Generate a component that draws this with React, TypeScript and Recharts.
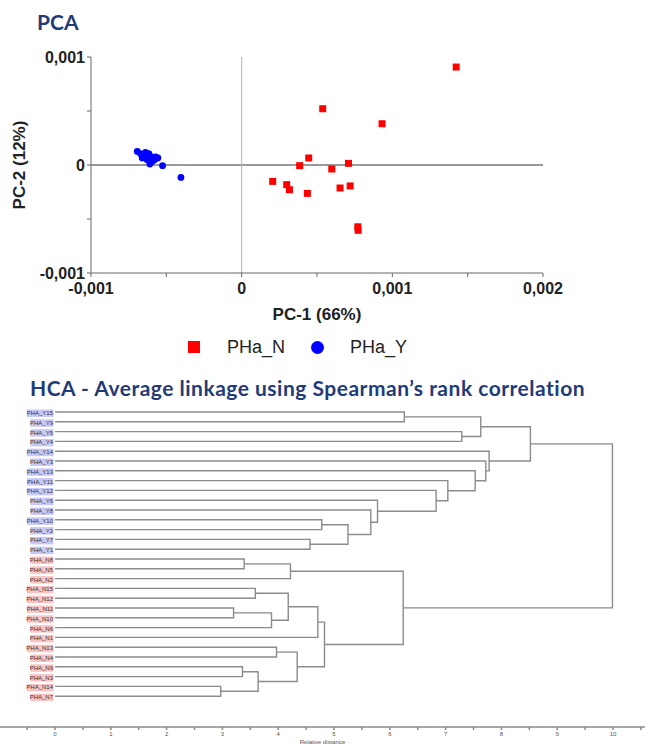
import React from "react";
import { ScatterChart, Scatter, XAxis, YAxis, ReferenceLine } from "recharts";

// PCA scores
const phaN = [
  { x: 0.001424, y: 0.000907 },
  { x: 0.000538, y: 0.000521 },
  { x: 0.000932, y: 0.000382 },
  { x: 0.000445, y: 0.000065 },
  { x: 0.000385, y: -0.000006 },
  { x: 0.000598, y: -0.000037 },
  { x: 0.000709, y: 0.000015 },
  { x: 0.000206, y: -0.000152 },
  { x: 0.000299, y: -0.000182 },
  { x: 0.000317, y: -0.000229 },
  { x: 0.000436, y: -0.000263 },
  { x: 0.000653, y: -0.000213 },
  { x: 0.00072, y: -0.000194 },
  { x: 0.000771, y: -0.000572 },
  { x: 0.000773, y: -0.000605 },
];

const phaY = [
  { x: -0.000693, y: 0.000126 },
  { x: -0.000638, y: 0.000117 },
  { x: -0.000605, y: 0.00008 },
  { x: -0.00066, y: 0.000065 },
  { x: -0.000627, y: 0.000049 },
  { x: -0.000594, y: 0.000033 },
  { x: -0.000556, y: 0.000065 },
  { x: -0.000649, y: 0.000086 },
  { x: -0.000609, y: 0.000009 },
  { x: -0.000578, y: 0.000049 },
  { x: -0.000525, y: -0.000006 },
  { x: -0.000403, y: -0.000115 },
  { x: -0.000616, y: 0.000105 },
  { x: -0.000671, y: 0.000105 },
  { x: -0.000571, y: 0.000074 },
];

const pcaTicksX = [-0.001, -0.0005, 0, 0.0005, 0.001, 0.0015, 0.002];
const pcaTicksY = [-0.001, -0.0005, 0, 0.0005, 0.001];

// HCA leaves, top to bottom
const leafNames = [
  "PHA_Y15", "PHA_Y9", "PHA_Y5", "PHA_Y4", "PHA_Y14", "PHA_Y3", "PHA_Y13", "PHA_Y11",
  "PHA_Y12", "PHA_Y6", "PHA_Y8", "PHA_Y10", "PHA_Y2", "PHA_Y7", "PHA_Y1",
  "PHA_N8", "PHA_N5", "PHA_N2", "PHA_N15", "PHA_N12", "PHA_N11", "PHA_N10", "PHA_N6",
  "PHA_N1", "PHA_N13", "PHA_N4", "PHA_N9", "PHA_N3", "PHA_N14", "PHA_N7",
];

// [child a, child b, distance]; nodes 30+ are the merges in this order
const linkage: [number, number, number][] = [
  [0, 1, 6.26],
  [2, 3, 7.29],
  [30, 31, 7.63],
  [11, 12, 4.78],
  [13, 14, 4.57],
  [33, 34, 5.25],
  [10, 35, 5.66],
  [9, 36, 5.78],
  [8, 37, 6.83],
  [7, 38, 7.04],
  [6, 39, 7.53],
  [5, 40, 7.72],
  [4, 41, 7.78],
  [32, 42, 8.52],
  [15, 16, 3.39],
  [44, 17, 4.22],
  [18, 19, 3.59],
  [20, 21, 3.2],
  [47, 22, 3.88],
  [46, 48, 4.18],
  [49, 23, 4.71],
  [24, 25, 3.97],
  [26, 27, 3.36],
  [28, 29, 2.97],
  [52, 53, 3.64],
  [51, 54, 4.34],
  [50, 55, 4.83],
  [45, 56, 6.24],
  [43, 57, 9.99],
];

const distanceTicks = [
  -0.5, 0, 0.5, 1, 1.5, 2, 2.5, 3, 3.5, 4, 4.5, 5, 5.5, 6, 6.5, 7, 7.5, 8, 8.5, 9, 9.5, 10, 10.5,
];

const TITLE_COLOR = "#1F3C78";

const fmtPca = (v: number) => {
  if (Math.abs(v) < 1e-12) return "0";
  const k = Math.round(v * 2000);
  if (k % 2 !== 0) return "";
  return v.toFixed(3).replace(".", ",");
};

const RedSquare = (props: any) => {
  const { cx, cy } = props;
  return <rect x={cx - 3.5} y={cy - 3.5} width={7} height={7} fill="#ff0000" />;
};

const BlueDot = (props: any) => {
  const { cx, cy } = props;
  return <circle cx={cx} cy={cy} r={3.4} fill="#0000ff" />;
};

const LeafLabel = (props: any) => {
  const { cx, cy } = props;
  const name: string = props.payload?.name ?? props.name;
  const isY = name.indexOf("_Y") >= 0;
  const w = name.length * 3.6 + 1.5;
  return (
    <g>
      <rect
        x={cx - 1.5 - w}
        y={cy - 2.5}
        width={w}
        height={7.5}
        fill={isY ? "#c8c8f5" : "#f8c4c4"}
      />
      <text
        x={cx - 2}
        y={cy + 1.5}
        textAnchor="end"
        dominantBaseline="middle"
        fontSize={6}
        fontFamily="Liberation Sans"
        fill="#333"
      >
        {name}
      </text>
    </g>
  );
};

const Hidden = () => <g />;

export default function App() {
  // node positions: leaves at their row, merges halfway between children
  const nodeY: number[] = leafNames.map((_, i) => i);
  const nodeH: number[] = leafNames.map(() => 0);
  linkage.forEach(([a, b, h]) => {
    nodeY.push((nodeY[a] + nodeY[b]) / 2);
    nodeH.push(h);
  });
  const branches = linkage.map(([a, b, h]) => [
    { x: nodeH[a], y: nodeY[a] },
    { x: h, y: nodeY[a] },
    { x: h, y: nodeY[b] },
    { x: nodeH[b], y: nodeY[b] },
  ]);
  const leaves = leafNames.map((name, i) => ({ x: 0, y: i, name }));

  const tickStyle = {
    fill: "#222",
    fontSize: 16,
    fontWeight: "bold",
    fontFamily: "Liberation Sans",
  };

  return (
    <div
      style={{
        position: "absolute",
        left: 0,
        top: 0,
        width: 645,
        height: 744,
        background: "#fff",
        overflow: "hidden",
      }}
    >
      <div
        style={{
          position: "absolute",
          left: 37,
          top: 10,
          fontFamily: "Lato",
          fontWeight: "bold",
          fontSize: 21,
          lineHeight: "24px",
          color: TITLE_COLOR,
        }}
      >
        PCA
      </div>

      <div style={{ position: "absolute", left: 0, top: 0 }}>
        <ScatterChart
          width={645}
          height={330}
          margin={{ top: 57, right: 102, left: 19, bottom: 0 }}
        >
          <XAxis
            type="number"
            dataKey="x"
            domain={[-0.001, 0.002]}
            ticks={pcaTicksX}
            tickFormatter={fmtPca}
            interval={0}
            height={57}
            tickSize={4}
            tickMargin={6}
            stroke="#666"
            tick={tickStyle}
            label={{
              value: "PC-1 (66%)",
              position: "insideBottom",
              offset: 10,
              style: { ...tickStyle, fontSize: 17 },
            }}
          />
          <YAxis
            type="number"
            dataKey="y"
            domain={[-0.001, 0.001]}
            ticks={pcaTicksY}
            tickFormatter={fmtPca}
            interval={0}
            width={72}
            tickSize={4}
            stroke="#666"
            tick={tickStyle}
            label={{
              value: "PC-2 (12%)",
              angle: -90,
              position: "insideLeft",
              offset: 0,
              style: { ...tickStyle, fontSize: 17, textAnchor: "middle" },
            }}
          />
          <ReferenceLine y={0} stroke="#777" strokeWidth={1.3} />
          <ReferenceLine x={0} stroke="#b5b5b5" />
          <Scatter data={phaN} shape={RedSquare} isAnimationActive={false} />
          <Scatter data={phaY} shape={BlueDot} isAnimationActive={false} />
        </ScatterChart>
      </div>

      {/* legend */}
      <div
        style={{
          position: "absolute",
          left: 188,
          top: 341,
          width: 12,
          height: 12,
          background: "#ff0000",
        }}
      />
      <div
        style={{
          position: "absolute",
          left: 227,
          top: 336,
          fontFamily: "Liberation Sans",
          fontSize: 18,
          lineHeight: "22px",
          color: "#222",
        }}
      >
        PHa_N
      </div>
      <div
        style={{
          position: "absolute",
          left: 311,
          top: 341,
          width: 13,
          height: 13,
          borderRadius: "50%",
          background: "#0000ff",
        }}
      />
      <div
        style={{
          position: "absolute",
          left: 350,
          top: 336,
          fontFamily: "Liberation Sans",
          fontSize: 18,
          lineHeight: "22px",
          color: "#222",
        }}
      >
        PHa_Y
      </div>

      <div
        style={{
          position: "absolute",
          left: 30,
          top: 376,
          fontFamily: "Lato",
          fontWeight: "bold",
          fontSize: 21,
          letterSpacing: 0.5,
          lineHeight: "24px",
          color: TITLE_COLOR,
          whiteSpace: "nowrap",
        }}
      >
        HCA - Average linkage using Spearman’s rank correlation
      </div>

      <div style={{ position: "absolute", left: 0, top: 400 }}>
        <ScatterChart
          width={645}
          height={344}
          margin={{ top: 0, right: 0, left: 0, bottom: 0 }}
        >
          <XAxis
            type="number"
            dataKey="x"
            domain={[-0.9857, 10.5735]}
            allowDataOverflow
            ticks={distanceTicks}
            tickFormatter={(v: number) => (Number.isInteger(v) ? String(v) : "")}
            interval={0}
            height={17}
            tickSize={3}
            stroke="#888"
            strokeWidth={1.5}
            tick={{ fill: "#555", fontSize: 6, fontFamily: "Liberation Sans" }}
            label={{
              value: "Relative distance",
              position: "insideBottom",
              offset: 0,
              style: { fill: "#555", fontSize: 6, fontFamily: "Liberation Sans" },
            }}
          />
          <YAxis
            type="number"
            dataKey="y"
            hide
            reversed
            domain={[-1.2245, 32.143]}
            allowDataOverflow
          />
          {branches.map((seg, i) => (
            <Scatter
              key={i}
              data={seg}
              line={{ stroke: "#8c8c8c", strokeWidth: 1.4 }}
              lineType="joint"
              shape={Hidden}
              isAnimationActive={false}
            />
          ))}
          <Scatter data={leaves} shape={LeafLabel} isAnimationActive={false} />
        </ScatterChart>
      </div>
    </div>
  );
}
